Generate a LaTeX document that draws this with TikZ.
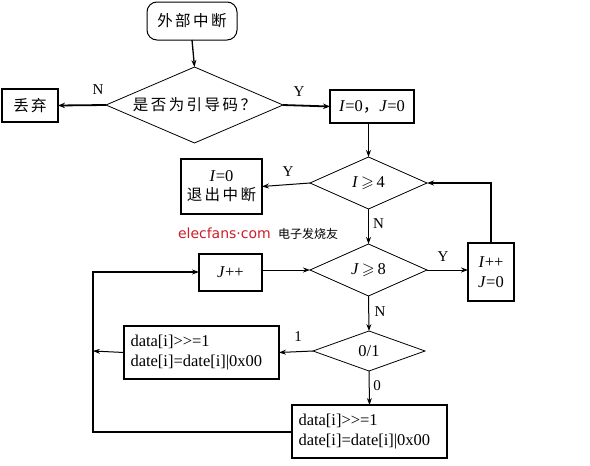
\documentclass[tikz,border=0pt]{standalone}
\usepackage{amssymb}
\usepackage{fontspec}
\setmainfont{Liberation Serif}
\newfontfamily\cjk[LetterSpace=16]{Noto Sans CJK SC}
\newfontfamily\cjkw{Noto Sans CJK SC}
\newfontfamily\wmfont{DejaVu Sans}
\usetikzlibrary{shapes.geometric,arrows.meta}
\definecolor{wmred}{RGB}{205,30,40}
\tikzset{
  every node/.style={font=\fontsize{16.5}{18}\selectfont, inner sep=0pt, outer sep=0pt},
  cjkf/.style={font=\cjk\fontsize{15.5}{18}\selectfont},
  box/.style={draw, line width=1.6pt, align=center},
  dia/.style={draw, diamond, line width=0.8pt, aspect=2},
  term/.style={draw, rounded corners=10pt, line width=1pt},
  arr/.style={-{Stealth[length=7pt,width=5pt]}, line width=1pt},
  tarr/.style={-{Stealth[length=7pt,width=5.5pt]}, line width=1.8pt},
  lbl/.style={font=\fontsize{15}{17}\selectfont},
}
\begin{document}
\begin{tikzpicture}[x=1pt,y=-1pt]
\useasboundingbox (0,0) rectangle (590,466);
% nodes
\node[term, cjkf, minimum width=90pt, minimum height=38pt] (start) at (192,21) {外部中断};
\node[dia, cjkf, minimum width=177pt, minimum height=64pt] (d1) at (194.5,105) {是否为引导码？};
\node[box, cjkf, minimum width=56pt, minimum height=33pt] (discard) at (30,105.5) {丢弃};
\node[box, minimum width=84pt, minimum height=33pt] (init) at (372,106.5) {\textit{I}=0{\cjkw ，}\textit{J}=0};
\node[dia, minimum width=117pt, minimum height=52pt] (d2) at (368.5,183) {\textit{I}\,$\geqslant$\,4};
\node[box, minimum width=81pt, minimum height=55pt] (exit) at (221.5,186.5) {\textit{I}=0\\[1pt]{\cjk\fontsize{15.5}{17}\selectfont 退出中断}};
\node[dia, minimum width=117pt, minimum height=52pt] (d3) at (368.5,270) {\textit{J}\,$\geqslant$\,8};
\node[box, minimum width=63pt, minimum height=37pt] (jpp) at (230.5,272.5) {\textit{J}++};
\node[box, minimum width=46pt, minimum height=58pt] (ipp) at (491,272) {\textit{I}++\\[2pt]\textit{J}=0};
\node[dia, minimum width=112pt, minimum height=40pt] (d4) at (369,351) {0/1};
\node[box, minimum width=155pt, minimum height=53pt, align=left, text width=142pt] (box2) at (201.5,352.5) {data[i]>{}>=1\\[2pt]date[i]=date[i]|0x00};
\node[box, minimum width=155pt, minimum height=53pt, align=left, text width=142pt] (box3) at (369.5,431.5) {data[i]>{}>=1\\[2pt]date[i]=date[i]|0x00};
\coordinate (lt) at (93,272);
\coordinate (lb) at (93,432);
\coordinate (lm) at (93,351);
% watermark
\node[anchor=west, font=\wmfont\fontsize{14}{16}\selectfont, text=wmred] (wm) at (178,233) {elecfans·com};
\node[anchor=west, font=\cjkw\fontsize{12}{14}\selectfont] (wm2) at (278,234) {电子发烧友};
% connectors
\draw[arr, line width=1.3pt] (start.south) -- (d1.north);
\draw[tarr] (d1.west) -- (discard.east);
\node[lbl] (ln1) at (98,90) {N};
\draw[tarr] (d1.east) -- (init.west);
\node[lbl] (ly1) at (299,92) {Y};
\draw[arr, line width=1.3pt] (d2.north |- init.south) -- (d2.north);
\draw[arr] (d2.west) -- (exit.east);
\node[lbl] (ly2) at (288,172) {Y};
\draw[arr, line width=1.5pt] (d2.south) -- (d3.north);
\node[lbl] (ln2) at (378.5,224) {N};
\draw[arr] (jpp.east |- d3.west) -- (d3.west);
\draw[arr] (d3.east) -- (d3.east -| ipp.west);
\node[lbl] (ly3) at (443,257) {Y};
\draw[arr, line width=1.3pt] (ipp.north) |- (d2.east);
\draw[arr] (d3.south) -- (d4.north);
\node[lbl] (ln3) at (380,312) {N};
\draw[arr] (d4.west) -- (box2.east);
\node[lbl] (l1) at (298,337) {1};
\draw[arr] (box2.west) -- (lm);
\draw[arr] (d4.south) -- (box3.north);
\node[lbl] (l0) at (377,386) {0};
\draw[arr, line width=1.5pt] (box3.west |- lb) -- (lb) -- (lt) -- (jpp.west |- lt);
\end{tikzpicture}
\end{document}
